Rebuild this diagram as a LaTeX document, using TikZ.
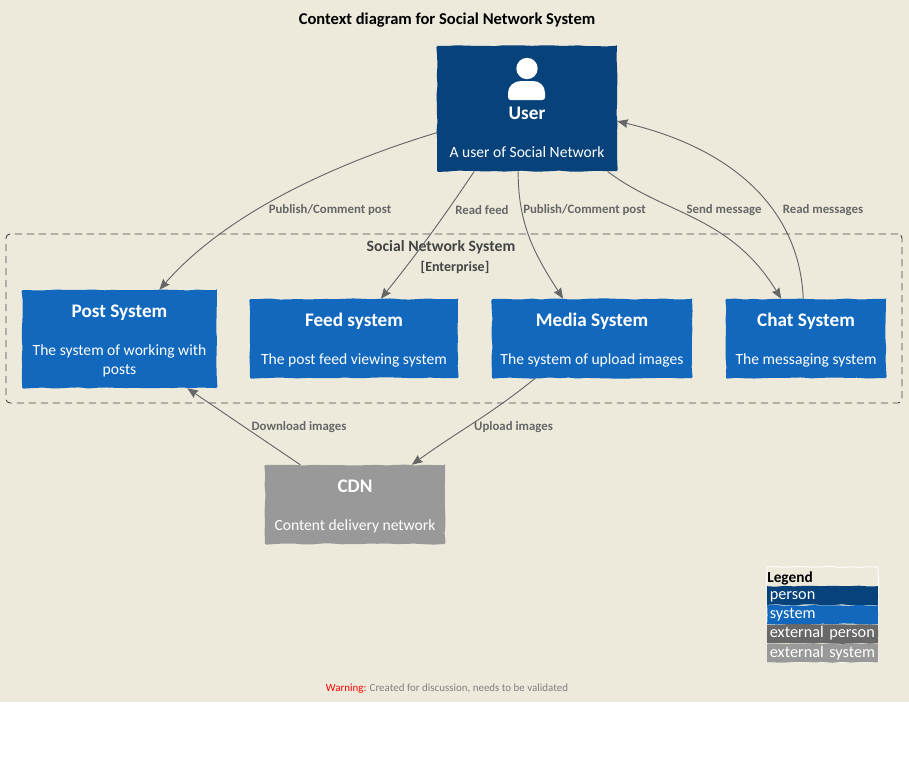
\documentclass[tikz,border=0pt]{standalone}
\usepackage{fontspec}
\setmainfont{Carlito}
\usetikzlibrary{arrows.meta,positioning,decorations.pathmorphing}
\definecolor{paper}{HTML}{EDEADC}
\definecolor{personblue}{HTML}{08427B}
\definecolor{systemblue}{HTML}{1168BD}
\definecolor{extperson}{HTML}{686868}
\definecolor{extsystem}{HTML}{999999}
\definecolor{relgray}{HTML}{666666}
\definecolor{bordergray}{HTML}{444444}
\newcommand{\boxname}[1]{{\fontsize{14.4}{16}\selectfont\bfseries\rule{0pt}{12.5pt}#1}}
\tikzset{
    sketchy/.style={decorate, decoration={random steps, segment length=7pt, amplitude=0.45pt}},
    sysbox/.style={sketchy, fill=#1, text=white, align=center, inner sep=0pt, rounded corners=1pt,
        font=\fontsize{11.7}{14.25}\selectfont},
    rel/.style={draw=relgray, line width=0.7pt, -{Stealth[length=8pt,width=6.5pt,inset=1pt]}},
    rellabel/.style={text=relgray, inner sep=0pt, font=\fontsize{9.6}{11}\selectfont\bfseries},
    legendrow/.style={sketchy, fill=#1, text=white, minimum width=83pt, minimum height=14pt, inner sep=0pt,
        text width=79pt, text height=8pt, text depth=2pt, align=left, font=\fontsize{12.2}{13}\selectfont},
}
\begin{document}
\begin{tikzpicture}[x=0.75pt,y=-0.75pt]
    \useasboundingbox (0,0) rectangle (909,783);
    \fill[paper] (0,0) rectangle (909,701.5);
    \node[inner sep=0pt, font=\fontsize{12.4}{14}\selectfont\bfseries] (title) at (447,20.5) {Context diagram for Social Network System};

    % enterprise boundary
    \node[draw=bordergray, dash pattern=on 5.5pt off 3.5pt, line width=0.7pt, rounded corners=3pt,
        minimum width=672pt, minimum height=126.75pt, inner sep=0pt] (boundary) at (454,318.5) {};
    \node[text=bordergray, inner sep=0pt, font=\fontsize{11.8}{15}\selectfont\bfseries] (boundaryname) at (441,247.5) {Social Network System};
    \node[text=bordergray, inner sep=0pt, font=\fontsize{10.5}{12}\selectfont\bfseries] (boundarytype) at (455,267) {[Enterprise]};

    % systems
    \node[sysbox=personblue, minimum width=135pt, minimum height=94pt] (user) at (527,108.5)
        {\vphantom{X}\\[23pt]\boxname{User}\\[14.5pt]A user of Social Network};
    \node[sysbox=systemblue, minimum width=146pt, minimum height=73.5pt] (post) at (119.5,339)
        {\boxname{Post System}\\[14.5pt]The system of working with\\posts};
    \node[sysbox=systemblue, minimum width=156pt, minimum height=59.25pt] (feed) at (354,338.5)
        {\boxname{Feed system}\\[14pt]The post feed viewing system};
    \node[sysbox=systemblue, minimum width=150pt, minimum height=59.25pt] (media) at (592,338.5)
        {\boxname{Media System}\\[14pt]The system of upload images};
    \node[sysbox=systemblue, minimum width=120pt, minimum height=59.25pt] (chat) at (806,338.5)
        {\boxname{Chat System}\\[14pt]The messaging system};
    \node[sysbox=extsystem, minimum width=135pt, minimum height=59.25pt] (cdn) at (355,504.5)
        {\boxname{CDN}\\[14pt]Content delivery network};

    % person icon
    \fill[white] (527,68.5) circle (8pt);
    \fill[white] (508,93) .. controls (508,86) and (514,81) .. (521,81) -- (533,81)
        .. controls (540,81) and (545,86) .. (545,93) -- (545,97) .. controls (545,99) and (544,100) .. (542,100)
        -- (511,100) .. controls (509,100) and (508,99) .. (508,97) -- cycle;

    % relations
    \draw[rel] (user.195.8) .. controls (330,165) and (225,215) .. (post.51);
    \draw[rel] (user.230.8) .. controls (445,215) and (420,250) .. (feed.56.6);
    \draw[rel] (user.262.7) .. controls (518,225) and (535,255) .. (media.126.3);
    \draw[rel] (user.322) .. controls (665,215) and (730,215) .. (chat.122.3);
    \draw[rel] (chat.94.3) .. controls (800,215) and (740,150) .. (user.352.5);
    \draw[rel] (cdn.144.3) -- (post.324.8);
    \draw[rel] (media.215.7) .. controls (490,415) and (460,430) .. (cdn.35.7);

    \node[rellabel] (lblpublish) at (330,210.5) {Publish/Comment post};
    \node[rellabel] (lblread) at (482,210.5) {Read feed};
    \node[rellabel] (lblupload) at (584.5,210.5) {Publish/Comment post};
    \node[rellabel] (lblsend) at (724,210.5) {Send message};
    \node[rellabel] (lblmessages) at (823,210.5) {Read messages};
    \node[rellabel] (lbldownload) at (299,427.5) {Download images};
    \node[rellabel] (lblimages) at (513.5,427.5) {Upload images};

    % legend
    \node[sketchy, draw=white, line width=0.7pt, minimum width=83pt, minimum height=71.5pt, inner sep=0pt] (legend) at (822.5,614.5) {};
    \node[inner sep=0pt, anchor=west, font=\fontsize{11.5}{13}\selectfont\bfseries] (legendtitle) at (767,578) {Legend};
    \node[legendrow=personblue] (lgperson) at (822.5,595.5) {person};
    \node[legendrow=systemblue, below=0pt of lgperson] (lgsystem) {system};
    \node[legendrow=extperson, below=0pt of lgsystem] (lgextperson) {external person};
    \node[legendrow=extsystem, below=0pt of lgextperson] (lgextsystem) {external system};

    \node[inner sep=0pt, text=gray, font=\fontsize{8.2}{10}\selectfont] (warning) at (447,688.5)
        {\textcolor{red}{Warning:} Created for discussion, needs to be validated};
\end{tikzpicture}
\end{document}
